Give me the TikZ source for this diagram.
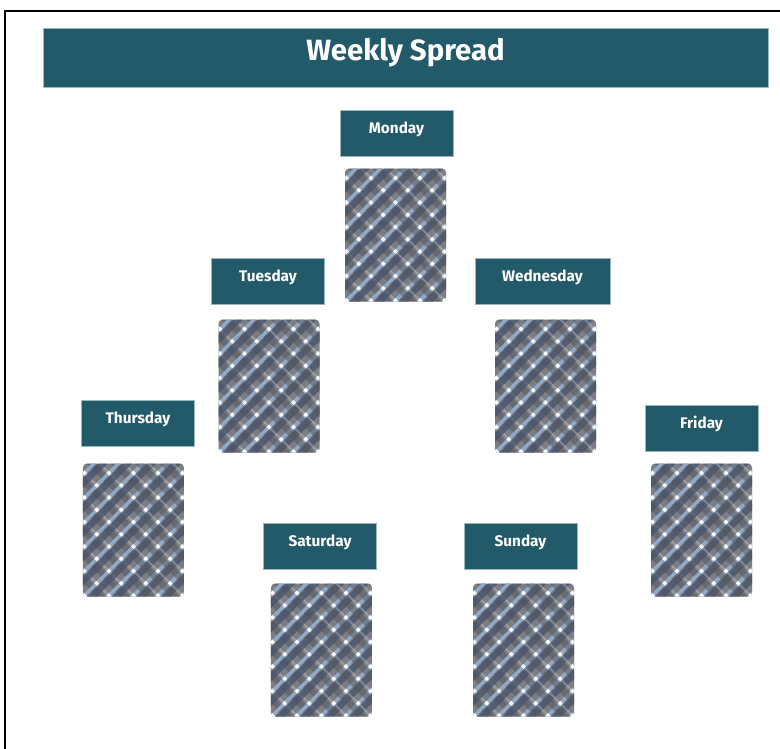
\documentclass[tikz,border=0pt]{standalone}
\usepackage{fontspec}
\setmainfont{Fira Sans}
\usepackage{tikz}
\usetikzlibrary{positioning}

\definecolor{bandteal}{HTML}{235A69}
\definecolor{bandedge}{HTML}{9DB6BE}
\definecolor{plaidgray}{HTML}{7D7E84}
\definecolor{plaidnavy}{HTML}{46526B}
\definecolor{plaidblue}{HTML}{8FAACB}
\definecolor{plaiddark}{HTML}{55565C}

% a parallelogram in the skewed frame
\newcommand\stripe[5][]{\fill[#1] (#2,#3) -- (#4,#3) -- (#4,#5) -- (#2,#5) -- cycle;}

\begin{document}
\begin{tikzpicture}[
      x=0.75pt, y=-0.75pt,
      dayband/.style={rectangle, fill=bandteal, draw=bandedge, line width=0.4pt,
        minimum width=85pt, minimum height=34.5pt, inner sep=0pt,
        text height=7pt, text depth=6pt,
        text=white, font=\fontsize{11.5}{13}\selectfont\bfseries},
      titleband/.style={dayband, minimum width=544pt, minimum height=44pt,
        text height=13pt, text depth=9pt,
        font=\fontsize{22}{26}\selectfont\bfseries},
      plaid/.style={rectangle, rounded corners=3pt, minimum width=75.75pt,
        minimum height=99.75pt, inner sep=0pt,
        path picture={
          \begin{scope}[shift={(path picture bounding box.center)},
              x={(0.7071pt,0.7071pt)}, y={(-0.7071pt,0.7071pt)}, rounded corners=0pt]
            \stripe[plaidgray]{-90}{-90}{90}{90}
            \foreach \k in {-7,...,7} {
              \stripe[plaiddark, opacity=.5]{\k*13-3}{-90}{\k*13+2}{90}
              \stripe[plaidnavy, opacity=.75]{-90}{\k*13-3}{90}{\k*13+2}
              \stripe[plaidblue]{-90}{\k*13+3}{90}{\k*13+5.5}
              \stripe[white, opacity=.25]{\k*13+3.5}{-90}{\k*13+5}{90}
            }
            \foreach \i in {-7,...,7} {
              \foreach \j in {-7,...,7} {
                \stripe[white]{\i*13+3}{\j*13+3}{\i*13+5.5}{\j*13+5.5}
              }
            }
          \end{scope}
        }}
    ]
    \useasboundingbox (0,0) rectangle (780,748);
    \begin{scope}
    \clip (0,0) rectangle (780,748);
    \draw[line width=0.9pt] (5,11) rectangle (786,754);
    \end{scope}

    \node[titleband] (title) at (405.5,57.5) {Weekly Spread};

    \node[dayband] (mon) at (396.5,133) {Monday};
    \node[dayband] (tue) at (268,281) {Tuesday};
    \node[dayband, minimum width=101.25pt] (wed) at (542.5,281) {Wednesday};
    \node[dayband] (thu) at (138,423) {Thursday};
    \node[dayband] (fri) at (701.5,428) {Friday};
    \node[dayband] (sat) at (320,546) {Saturday};
    \node[dayband] (sun) at (520.5,546) {Sunday};

    \node[plaid] (monpad) [below=9pt of mon, xshift=-0.75pt] {};
    \node[plaid] (tuepad) [below=11.25pt of tue, xshift=0.75pt] {};
    \node[plaid] (wedpad) [below=11.25pt of wed, xshift=2.25pt] {};
    \node[plaid] (thupad) [below=12.75pt of thu, xshift=-3.4pt] {};
    \node[plaid] (fripad) [below=9pt of fri] {};
    \node[plaid] (satpad) [below=10.5pt of sat, xshift=1.1pt] {};
    \node[plaid] (sunpad) [below=10.5pt of sun, xshift=2.25pt] {};
  \end{tikzpicture}
\end{document}
